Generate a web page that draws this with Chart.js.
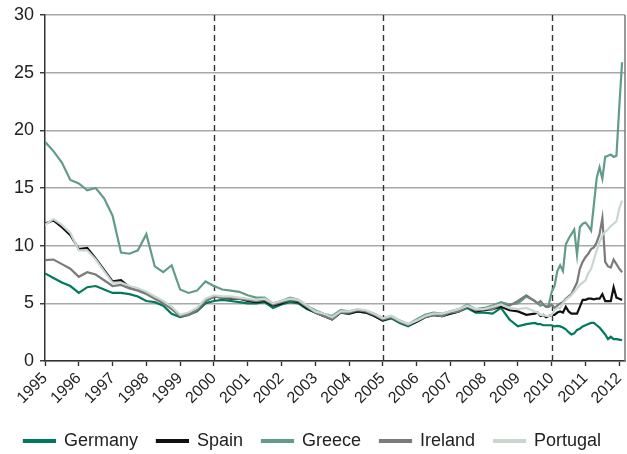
<!DOCTYPE html>
<html><head><meta charset="utf-8">
<script src="https://cdn.jsdelivr.net/npm/chart.js@4/dist/chart.umd.min.js"></script>
<style>html,body{margin:0;padding:0;background:#fff;}#wrap{width:627px;height:454px;position:relative;}</style>
</head><body><div id="wrap"><canvas id="c"></canvas></div>
<script>
// Observation dates (quarterly to mid-2009, monthly afterwards)
const dates = [
 "1995-01","1995-04","1995-07","1995-10","1996-01","1996-04","1996-07","1996-10",
 "1997-01","1997-04","1997-07","1997-10","1998-01","1998-04","1998-07","1998-10",
 "1999-01","1999-04","1999-07","1999-10","2000-01","2000-04","2000-07","2000-10",
 "2001-01","2001-04","2001-07","2001-10","2002-01","2002-04","2002-07","2002-10",
 "2003-01","2003-04","2003-07","2003-10","2004-01","2004-04","2004-07","2004-10",
 "2005-01","2005-04","2005-07","2005-10","2006-01","2006-04","2006-07","2006-10",
 "2007-01","2007-04","2007-07","2007-10","2008-01","2008-04","2008-07","2008-10",
 "2009-01","2009-04","2009-07",
 "2009-08","2009-09","2009-10","2009-11","2009-12",
 "2010-01","2010-02","2010-03","2010-04","2010-05","2010-06","2010-07","2010-08","2010-09","2010-10","2010-11","2010-12",
 "2011-01","2011-02","2011-03","2011-04","2011-05","2011-06","2011-07","2011-08","2011-09","2011-10","2011-11","2011-12",
 "2012-01","2012-02"
];
const yearTicks = [1995,1996,1997,1998,1999,2000,2001,2002,2003,2004,2005,2006,2007,2008,2009,2010,2011,2012];
const dashedYears = [2000, 2005, 2010];
const yTicks = [0,5,10,15,20,25,30];

const germany = [
 7.6,7.2,6.8,6.5, 5.9,6.4,6.5,6.2, 5.9,5.9,5.8,5.6, 5.2,5.1,4.8,4.1, 3.8,4.0,4.3,5.0,
 5.2,5.3,5.2,5.1, 5.0,5.0,5.1,4.6, 4.9,5.1,5.0,4.5, 4.2,3.9,3.7,4.2, 4.1,4.3,4.2,3.9,
 3.5,3.7,3.3,3.0, 3.4,3.8,4.0,3.9, 4.1,4.3,4.6,4.2, 4.2,4.1,4.6,3.6, 3.0,3.2,3.3,
 3.2,3.2,3.1,3.1,3.1,
 3.1,3.0,3.05,3.0,2.9,2.75,2.5,2.3,2.4,2.7,2.8,3.0,
 3.1,3.2,3.3,3.3,3.1,2.9,2.6,2.3,1.9,2.1,1.9,1.9,
 1.85,1.8
];
const spain = [
 11.9,12.2,11.6,10.9, 9.7,9.8,8.9,7.9, 6.9,7.0,6.4,6.2, 5.9,5.5,5.1,4.6, 3.9,4.1,4.4,5.2,
 5.6,5.5,5.4,5.4, 5.2,5.1,5.2,4.8, 5.0,5.3,5.1,4.6, 4.2,3.9,3.6,4.2, 4.1,4.3,4.2,3.9,
 3.5,3.8,3.4,3.1, 3.4,3.8,4.0,3.9, 4.1,4.3,4.7,4.3, 4.4,4.5,4.7,4.4, 4.3,4.0,4.1,
 4.2,3.9,4.0,3.8,3.9,
 4.0,4.0,4.2,4.3,4.2,4.7,4.3,4.1,4.1,4.1,4.7,5.3,
 5.3,5.4,5.4,5.35,5.4,5.4,5.8,5.2,5.2,5.2,6.4,5.5,
 5.4,5.3
];
const greece = [
 19.0,18.2,17.2,15.7, 15.4,14.8,15.0,14.1, 12.6,9.4,9.3,9.6, 11.0,8.2,7.7,8.3, 6.2,5.9,6.1,6.9,
 6.5,6.2,6.1,6.0, 5.7,5.5,5.5,5.0, 5.2,5.5,5.3,4.8, 4.4,4.1,3.9,4.4, 4.3,4.45,4.35,4.1,
 3.7,3.9,3.5,3.2, 3.6,4.0,4.2,4.1, 4.3,4.5,4.9,4.5, 4.6,4.8,5.1,4.9, 5.0,5.6,5.2,
 5.0,4.8,4.9,4.7,4.9,
 6.0,6.5,7.8,8.3,7.8,10.1,10.6,11.0,11.4,9.2,11.6,11.9,
 12.0,11.7,11.3,13.6,15.9,16.8,15.8,17.7,17.8,17.9,17.7,17.8,
 22.0,25.9
];
const ireland = [
 8.75,8.8,8.4,8.0, 7.3,7.7,7.5,7.0, 6.5,6.6,6.3,6.1, 5.8,5.4,5.0,4.5, 3.9,4.0,4.4,5.2,
 5.6,5.5,5.5,5.4, 5.3,5.2,5.3,4.9, 5.1,5.3,5.2,4.7, 4.2,3.9,3.6,4.2, 4.2,4.4,4.3,4.0,
 3.6,3.8,3.4,3.1, 3.5,3.8,4.0,3.9, 4.2,4.3,4.7,4.4, 4.5,4.5,4.9,4.8, 5.2,5.7,5.2,
 5.0,5.2,4.9,4.7,4.7,
 4.9,4.6,4.8,5.0,5.1,5.4,5.6,5.8,6.3,6.8,8.0,8.6,
 9.0,9.3,9.7,9.85,10.3,11.0,12.4,8.6,8.2,8.1,8.8,8.4,
 8.0,7.7
];
const portugal = [
 11.8,12.3,11.8,11.1, 9.6,9.6,8.8,7.8, 6.8,6.8,6.5,6.3, 6.0,5.6,5.2,4.7, 4.0,4.2,4.6,5.4,
 5.7,5.6,5.6,5.5, 5.4,5.3,5.4,5.0, 5.2,5.4,5.3,4.8, 4.3,4.1,3.8,4.3, 4.3,4.5,4.4,4.1,
 3.7,3.9,3.5,3.2, 3.5,3.9,4.1,4.1, 4.3,4.5,4.8,4.5, 4.5,4.7,4.9,4.6, 4.5,4.6,4.3,
 4.2,4.0,4.0,3.9,3.9,
 4.0,4.4,4.6,4.6,5.0,5.3,5.5,5.7,6.0,6.3,6.6,6.8,
 7.0,7.6,8.0,8.8,9.6,10.3,10.9,11.2,11.4,11.7,11.9,12.1,
 13.2,13.9
];

const seriesNames = ["Germany","Spain","Greece","Ireland","Portugal"];
const seriesColors = ["#007a5c","#111111","#629c86","#7b7b7b","#c8d8cf"];
const seriesValues = [germany, spain, greece, ireland, portugal];

function toYear(s){ const p = s.split("-"); return +p[0] + (+p[1]-1)/12; }
const xs = dates.map(toYear);

const datasets = seriesNames.map((name, i) => ({
  label: name,
  data: seriesValues[i].map((v, j) => ({x: xs[j], y: v})),
  borderColor: seriesColors[i],
  backgroundColor: seriesColors[i],
  borderWidth: 2.2,
  pointRadius: 0,
  tension: 0,
  order: seriesNames.length - i
}));

const framePlugin = {
  id: 'frame',
  beforeDatasetsDraw(chart) {
    const {ctx, chartArea: a, scales: {x}} = chart;
    ctx.save();
    ctx.strokeStyle = '#333';
    ctx.lineWidth = 1.4;
    ctx.setLineDash([6, 4]);
    dashedYears.forEach(yr => {
      const px = Math.round(x.getPixelForValue(yr)) + 0.5;
      ctx.beginPath(); ctx.moveTo(px, a.top); ctx.lineTo(px, a.bottom); ctx.stroke();
    });
    ctx.setLineDash([]);
    ctx.strokeStyle = '#777';
    ctx.lineWidth = 1.5;
    ctx.beginPath(); ctx.moveTo(a.right, a.top); ctx.lineTo(a.right, a.bottom); ctx.stroke();
    ctx.restore();
  }
};

Chart.defaults.font.family = "'Liberation Sans', Arial, Helvetica, sans-serif";
Chart.defaults.color = '#222';

new Chart(document.getElementById('c'), {
  type: 'line',
  data: { datasets },
  plugins: [framePlugin],
  options: {
    responsive: true,
    maintainAspectRatio: false,
    animation: false,
    layout: { padding: { top: 15, right: 2, left: 0, bottom: -6 } },
    plugins: {
      tooltip: { enabled: false },
      legend: {
        position: 'bottom',
        reverse: true,
        labels: { boxWidth: 31, boxHeight: 2, padding: 19, font: { size: 18 }, color: '#222' }
      }
    },
    scales: {
      x: {
        type: 'linear',
        min: 1995,
        max: 2012.17,
        afterBuildTicks: s => { s.ticks = yearTicks.map(v => ({ value: v })); },
        afterFit: s => { s.height = 52; s.paddingRight = 0; s.paddingLeft = 0; },
        ticks: { callback: v => String(v), minRotation: 45, maxRotation: 45, autoSkip: false, font: { size: 16 }, color: '#222', padding: 3 },
        grid: { drawOnChartArea: false, drawTicks: true, tickLength: 5, tickColor: '#333', tickWidth: 1.4 },
        border: { color: '#333', width: 1.5 }
      },
      y: {
        min: 0,
        max: 30,
        afterBuildTicks: s => { s.ticks = yTicks.map(v => ({ value: v })); },
        afterFit: s => { s.width = 45; s.paddingTop = 0; s.paddingBottom = 0; },
        ticks: { font: { size: 18 }, color: '#222', padding: 6 },
        grid: { color: '#a8a8a8', lineWidth: 1.5, drawTicks: true, tickLength: 5, tickColor: '#333', tickWidth: 1.4 },
        border: { color: '#333', width: 1.5 }
      }
    }
  }
});
</script>
</body></html>
